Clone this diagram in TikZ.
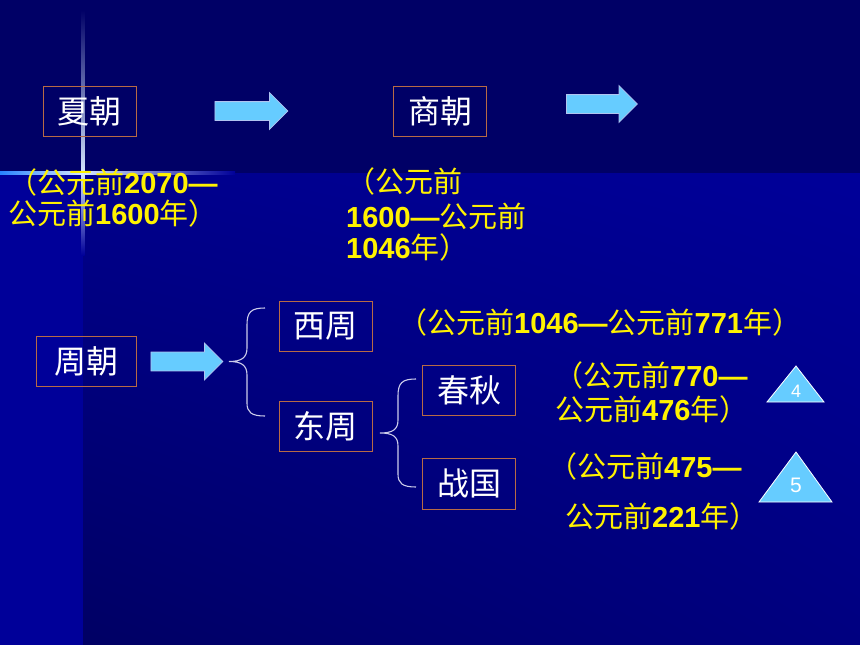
\documentclass[tikz,border=0pt]{standalone}
\usepackage{fontspec}
\setmainfont{Liberation Sans}
\newfontfamily\cjk{Noto Sans CJK SC}
\usepackage{tikz}
\usetikzlibrary{positioning,shapes.arrows,shadings}
\definecolor{bgdark}{RGB}{0,0,102}
\definecolor{bgblue}{RGB}{0,0,153}
\definecolor{bgmid}{RGB}{0,0,140}
\definecolor{bglow}{RGB}{0,0,100}
\definecolor{bgright}{RGB}{0,0,128}
\definecolor{boxline}{RGB}{184,106,69}
\definecolor{arrowblue}{RGB}{102,204,255}
\definecolor{arrowline}{RGB}{176,196,240}
\definecolor{braceline}{RGB}{205,205,235}
\definecolor{glow}{RGB}{40,130,255}
\newcommand{\gyq}[1]{{\cjk #1}}
\tikzset{
  every picture/.style = {
    x = 1pt,
    y = -1pt,
  }
  ,
  dynasty/.style = {
    rectangle,
    draw = boxline,
    line width = 1pt,
    text = white,
    font = \cjk\fontsize{32}{32}\selectfont,
    inner sep = 0pt,
    minimum width = 93pt,
    minimum height = 50pt
  }
  , % years under the boxes
  date/.style = {
    anchor = base west,
    inner sep = 0pt,
    text = yellow,
    font = \fontsize{29}{31}\selectfont
  }
  ,
  blockarrow/.style = {
    single arrow,
    fill = arrowblue,
    draw = arrowline,
    line width = 0.8pt,
    inner xsep = 0pt,
    inner ysep = 9pt,
    minimum height = 72pt,
    minimum width = 36pt,
    single arrow head extend = 9pt
  }
  ,
  brace/.style = {
    draw = braceline,
    line width = 1.1pt
  }
  , % page markers
  marker/.style = {
    fill = arrowblue,
    draw = white,
    line width = 0.8pt
  }
  ,
  label-marker/.style = {
    text = white
  }
}
\begin{document}
\begin{tikzpicture}
    \useasboundingbox (0,0) rectangle (860,645);
    % background
    \fill [bgdark] (0,0) rectangle (860,645);
    \fill [bgblue] (0,173) rectangle (83,645);
    \shade [shading = bilinear interpolation, upper left = bgmid, upper right = bgblue,
            lower left = bglow, lower right = bgright]
        (83,173) rectangle (860,645);
    \shade [top color = bgdark, bottom color = white!80!glow] (81.5,10) rectangle (84.5,173);
    \shade [top color = white!80!glow, bottom color = bgblue] (81.5,173) rectangle (84.5,255);
    \shade [left color = glow, right color = white!80!glow] (0,171.5) rectangle (83,174.5);
    \shade [left color = white!80!glow, right color = bgblue] (83,171.5) rectangle (235,174.5);

    \node [dynasty] (xia) at (89.5,111) {夏朝};
    \node [dynasty] (shang) at (440,111) {商朝};
    \node [dynasty, minimum width = 100pt] (zhou) at (86,361.5) {周朝};
    \node [dynasty] (xizhou) at (325.5,326) {西周};
    \node [dynasty] (dongzhou) at (325.5,426) {东周};
    \node [dynasty] (chunqiu) at (469,390) {春秋};
    \node [dynasty, minimum height = 51pt] (zhanguo) at (469,483.5) {战国};

    \node [blockarrow, minimum height = 73pt, right = 78pt of xia] (xia-arrow) {};
    \node [blockarrow, minimum height = 71pt, right = 79pt of shang, yshift = 7pt] (shang-arrow) {};
    \node [blockarrow, minimum width = 37pt, right = 14pt of zhou] (zhou-arrow) {};

    \draw [brace] (265,308) .. controls (251,308) and (247,312) .. (247,325) -- (247,348)
        .. controls (247,358) and (241,361.5) .. (229,361.5)
        .. controls (241,361.5) and (247,365) .. (247,375) -- (247,403)
        .. controls (247,412) and (251,416) .. (265,416);
    \draw [brace] (416,379) .. controls (402,379) and (398,383) .. (398,396) -- (398,420)
        .. controls (398,430) and (392,433) .. (380,433)
        .. controls (392,433) and (398,436) .. (398,446) -- (398,474)
        .. controls (398,483) and (402,487) .. (416,487);

    \node [date] (xia-d1) at (8,193) {\gyq{（公元前}\textbf{2070—}};
    \node [date] (xia-d2) at (8,224) {\gyq{公元前}\textbf{1600}\gyq{年）}};
    \node [date] (shang-d1) at (346,192) {\gyq{（公元前}};
    \node [date] (shang-d2) at (346,227) {\textbf{1600—}\gyq{公元前}};
    \node [date] (shang-d3) at (346,258) {\textbf{1046}\gyq{年）}};
    \node [date] (xizhou-d) at (398,333) {\gyq{（公元前}\textbf{1046—}\gyq{公元前}\textbf{771}\gyq{年）}};
    \node [date] (chunqiu-d1) at (554,386) {\gyq{（公元前}\textbf{770—}};
    \node [date] (chunqiu-d2) at (555,420) {\gyq{公元前}\textbf{476}\gyq{年）}};
    \node [date] (zhanguo-d1) at (548,477) {\gyq{（公元前}\textbf{475—}};
    \node [date] (zhanguo-d2) at (565,527) {\gyq{公元前}\textbf{221}\gyq{年）}};

    \filldraw [marker] (796,366) -- (824,402) -- (767,402) -- cycle;
    \node [label-marker, font = \fontsize{18}{18}\selectfont] (four) at (796,391) {4};
    \filldraw [marker] (796,452) -- (832,502) -- (759,502) -- cycle;
    \node [label-marker, font = \fontsize{21}{21}\selectfont] (five) at (796,485) {5};
\end{tikzpicture}
\end{document}
